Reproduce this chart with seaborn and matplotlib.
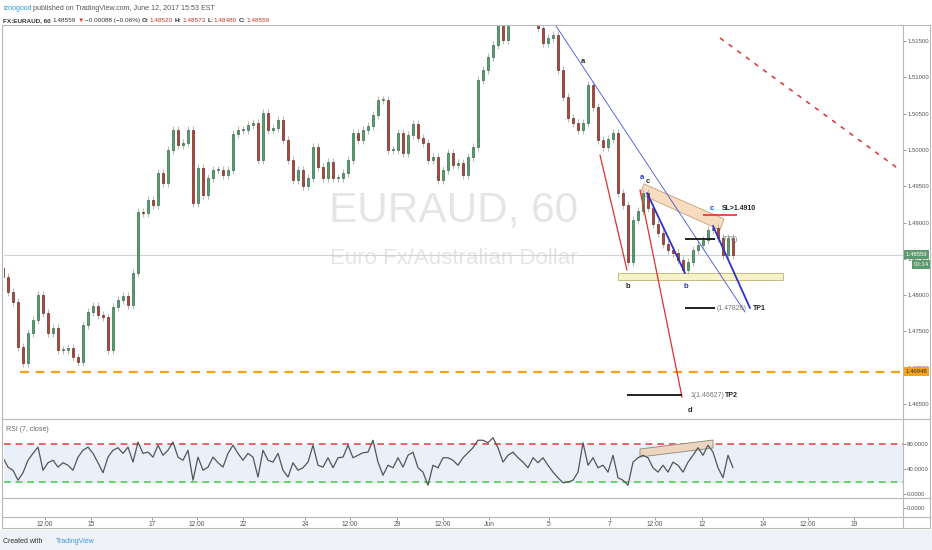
import numpy as np
import pandas as pd
import matplotlib
matplotlib.use('Agg')
import matplotlib.pyplot as plt
import matplotlib.transforms as mtransforms
from matplotlib import font_manager
from matplotlib.patches import Polygon, Rectangle
from matplotlib.lines import Line2D
import seaborn as sns

# EURAUD 60 min closes
closes = [
    1.48250, 1.48044, 1.47906, 1.47286, 1.47066, 1.47479, 1.47658, 1.48002, 1.47755, 1.47479,
    1.47548, 1.47245, 1.47245, 1.47273, 1.47149, 1.47080, 1.47589, 1.47768, 1.47851, 1.47727,
    1.47699, 1.47245, 1.47837, 1.47934, 1.47989, 1.47865, 1.48305, 1.49145, 1.49132, 1.49311,
    1.49242, 1.49682, 1.49545, 1.49999, 1.50274, 1.50068, 1.50095, 1.50274, 1.49269, 1.49751,
    1.49379, 1.49614, 1.49724, 1.49724, 1.49655, 1.49724, 1.50219, 1.50274, 1.50274, 1.50343,
    1.50371, 1.49861, 1.50509, 1.50274, 1.50302, 1.50412, 1.50137, 1.49861, 1.49586, 1.49724,
    1.49503, 1.49614, 1.50040, 1.49765, 1.49614, 1.49834, 1.49614, 1.49614, 1.49682, 1.49861,
    1.50233, 1.50137, 1.50274, 1.50330, 1.50481, 1.50688, 1.50688, 1.49999, 1.49999, 1.50233,
    1.49958, 1.50206, 1.50357, 1.50164, 1.50095, 1.49861, 1.49903, 1.49586, 1.49724, 1.49958,
    1.49793, 1.49820, 1.49655, 1.49903, 1.50040, 1.50963, 1.51101, 1.51280, 1.51445, 1.51734,
    1.51514, 1.51858, 1.51899, 1.51858, 1.51899, 1.51872, 1.51789, 1.51679, 1.51472, 1.51541,
    1.51583, 1.51101, 1.50729, 1.50440, 1.50371, 1.50274, 1.50371, 1.50894, 1.50591, 1.50137,
    1.50040, 1.50151, 1.50233, 1.49407, 1.49242, 1.48457, 1.49035, 1.49159, 1.49407, 1.49200,
    1.48980, 1.48856, 1.48705, 1.48622, 1.48581, 1.48484, 1.48347, 1.48457, 1.48622, 1.48691,
    1.48760, 1.48897, 1.48925, 1.48787, 1.48553, 1.48787, 1.48559,
]
first_open = 1.4837

rsi = [
    58, 43, 38, 22, 34, 54, 65, 75, 38, 50,
    54, 43, 50, 46, 38, 59, 70, 75, 65, 50,
    34, 59, 70, 74, 65, 75, 51, 83, 65, 67,
    59, 78, 62, 70, 83, 59, 54, 70, 22, 59,
    38, 43, 59, 50, 43, 65, 78, 65, 54, 65,
    59, 27, 70, 54, 51, 65, 38, 27, 50, 38,
    42, 51, 78, 46, 43, 58, 42, 58, 59, 78,
    58, 62, 66, 67, 86, 51, 30, 46, 42, 58,
    43, 62, 67, 42, 35, 14, 46, 42, 58, 58,
    54, 46, 58, 66, 74, 86, 86, 82, 90, 74,
    51, 62, 67, 58, 51, 42, 58, 50, 58, 46,
    35, 26, 18, 19, 22, 35, 82, 46, 58, 42,
    46, 35, 62, 26, 22, 14, 51, 58, 62, 58,
    42, 35, 46, 35, 51, 46, 35, 51, 62, 74,
    62, 78, 67, 42, 26, 62, 42,
]

date_ticks = [8.4, 17.6, 29.8, 38.8, 48.0, 60.4, 69.4, 78.8, 88.0, 97.2,
              109.2, 121.4, 130.4, 139.8, 152.0, 161.0, 170.2]
date_labels = ['12:00', '15', '17', '12:00', '22', '24', '12:00', '29', '12:00', 'Jun',
               '5', '7', '12:00', '12', '14', '12:00', '19']
price_ticks = [1.465, 1.470, 1.475, 1.480, 1.485, 1.490, 1.495, 1.500, 1.505, 1.510, 1.515]
rsi_ticks = [0, 40, 80]

# drawings (bar index, price)
blue_thin_lines = [(110.6, 1.51707, 148.4, 1.47768)]
blue_thick_lines = [(128.8, 1.49407, 136.4, 1.48305), (142.0, 1.48953, 149.4, 1.47823)]
red_lines = [(119.4, 1.49930, 124.8, 1.48347), (127.4, 1.49448, 135.8, 1.46598)]
red_dash_line = (143.4, 1.51541, 179.4, 1.49724)
support_level = 1.46948
black_levels = [(136.4, 142.4, 1.48778), (136.4, 142.4, 1.47826), (124.8, 135.8, 1.46627)]
sl_level = (140.0, 146.8, 1.4910)
support_zone = (123.0, 156.0, 1.48209, 1.48305)
peach_band = [(128.2, 1.49531), (144.2, 1.49049), (143.4, 1.48898), (127.4, 1.49393)]
rsi_band = [(127.4, 72), (142.0, 86.4), (142.0, 73.6), (127.4, 59.2)]
wave_labels = [('a', 116.0, 1.51211, '#222222'), ('a', 127.8, 1.49627, '#2c33c9'),
               ('c', 129.0, 1.49572, '#222222'), ('b', 125.0, 1.48126, '#222222'),
               ('b', 136.6, 1.48126, '#2c33c9'), ('c', 141.8, 1.49200, '#2c33c9'),
               ('d', 137.4, 1.46419, '#222222')]
notes = [('SL>1.4910', 143.8, 1.49187, '#222222', 'bold'),
         ('(778)', 143.8, 1.48760, '#777777', 'normal'),
         ('(1.47826)', 142.8, 1.47810, '#777777', 'normal'),
         ('TP1', 150.0, 1.47810, '#222222', 'bold'),
         ('1(1.46627)', 137.4, 1.46625, '#777777', 'normal'),
         ('TP2', 144.4, 1.46625, '#222222', 'bold')]

sns.set_theme(style='white')
plt.rcParams['font.family'] = ['Liberation Sans', 'DejaVu Sans']

W, H = 932, 550
fig = plt.figure(figsize=(W / 100, H / 100), dpi=100)
fig.patch.set_facecolor('white')


def fx(px):
    return px / W


def fy(py):
    return 1 - py / H


L, R = 4, 903
TICK = 4.3
ax = fig.add_axes([fx(L), fy(418), fx(R) - fx(L), (418 - 25) / H])
ax_rsi = fig.add_axes([fx(L), fy(498), fx(R) - fx(L), (498 - 419) / H], sharex=ax)
ax_bot = fig.add_axes([fx(L), fy(517), fx(R) - fx(L), (517 - 498) / H], sharex=ax)
for a in (ax, ax_rsi, ax_bot):
    a.set_facecolor('none')
    for s in a.spines.values():
        s.set_visible(False)

# candles
df = pd.DataFrame({'close': closes})
df['open'] = [first_open] + closes[:-1]
df['rsi'] = rsi
up = (df['close'] >= df['open']).values
lo = df[['open', 'close']].min(axis=1)
hi = df[['open', 'close']].max(axis=1)
wick = 0.0006
ax.vlines(df.index, lo - wick, hi + wick, color='#b5b5b5', lw=0.7, zorder=3)
ax.bar(df.index, (hi - lo).clip(lower=0.00008), bottom=lo, width=0.55,
       color=np.where(up, '#53a36f', '#b4453a'),
       edgecolor=np.where(up, '#2e5e3f', '#5e2019'), linewidth=0.45, zorder=4)

ax.set_xlim(0.2, 180)
ax.set_ylim(1.46309, 1.51720)

# watermark
ax.text(0.5, 0.529, 'EURAUD, 60', transform=ax.transAxes, ha='center', va='center',
        fontsize=30.5, color='#e3e5e8', zorder=0)
ax.text(0.5, 0.407, 'Euro Fx/Australian Dollar', transform=ax.transAxes, ha='center',
        va='center', fontsize=16, color='#e3e5e8', zorder=0)

# current price line and support
ax.axhline(closes[-1], color='#cfd3d6', lw=0.8, zorder=1)
ax.hlines(support_level, 3.4, 180, color='#f7a21b', lw=1.6, linestyles=(0, (4, 3)), zorder=5)

# drawings
x0, x1, y0, y1 = support_zone
ax.add_patch(Rectangle((x0, y0), x1 - x0, y1 - y0, fc='#f7f2c8', ec='#c8be7a', lw=0.7, zorder=2))
ax.add_patch(Polygon(peach_band, closed=True, fc='#f8dcc0', ec='#c9a98a', lw=0.7, zorder=2))
for xa, pa, xb, pb in blue_thin_lines:
    ax.plot([xa, xb], [pa, pb], color='#4650d8', lw=0.6, zorder=6)
for xa, pa, xb, pb in blue_thick_lines:
    ax.plot([xa, xb], [pa, pb], color='#2c33c9', lw=1.3, zorder=6)
for xa, pa, xb, pb in red_lines:
    ax.plot([xa, xb], [pa, pb], color='#e03030', lw=0.9, zorder=6)
xa, pa, xb, pb = red_dash_line
ax.plot([xa, xb], [pa, pb], color='#e03030', lw=1.1, ls=(0, (3, 4)), zorder=6)
for xa, xb, p in black_levels:
    ax.hlines(p, xa, xb, color='#111111', lw=1.3, zorder=6)
xa, xb, p = sl_level
ax.hlines(p, xa, xb, color='#e03030', lw=1.2, zorder=6)
for s, xv, pv, c in wave_labels:
    ax.text(xv, pv, s, color=c, fontsize=5.5, ha='center', va='center', fontweight='bold', zorder=7)
for s, xv, pv, c, w in notes:
    ax.text(xv, pv, s, color=c, fontsize=5.0, ha='left', va='center', fontweight=w, zorder=7)

# price axis
ax.yaxis.tick_right()
ax.set_yticks(price_ticks)
ax.set_yticklabels([f'{t:.5f}' for t in price_ticks])
ax.tick_params(axis='y', length=2, width=0.6, color='#888888', labelsize=TICK,
               labelcolor='#555555', pad=1, direction='out')
ax.tick_params(axis='x', bottom=False, labelbottom=False)
blend = mtransforms.blended_transform_factory(ax.transAxes, ax.transData)
box = dict(boxstyle='square,pad=0.3', ec='none')
ax.text(1.003, closes[-1], f'{closes[-1]:.5f}', transform=blend, fontsize=TICK, color='white',
        va='center', ha='left', bbox=dict(box, fc='#5b9a6e'), clip_on=False, zorder=10)
ax.annotate('00:14', xy=(1.0, closes[-1]), xycoords=blend, xytext=(7.5, -7),
            textcoords='offset points', fontsize=TICK, color='white', va='center', ha='left',
            bbox=dict(box, fc='#5b9a6e'), annotation_clip=False, zorder=10)
ax.text(1.003, support_level, f'{support_level:.5f}', transform=blend, fontsize=TICK,
        color='#333333', va='center', ha='left', bbox=dict(box, fc='#f7a21b'),
        clip_on=False, zorder=10)

# RSI pane
ax_rsi.axhspan(20, 80, color='#e9f0fa', zorder=0)
ax_rsi.axhline(80, color='#e54b4b', lw=1.2, ls=(0, (4, 3)), zorder=1)
ax_rsi.axhline(20, color='#55cc55', lw=1.2, ls=(0, (4, 3)), zorder=1)
ax_rsi.add_patch(Polygon(rsi_band, closed=True, fc='#ecd6c0', ec='#8f8578', lw=0.6, zorder=2))
sns.lineplot(x=df.index, y=df['rsi'], ax=ax_rsi, color='#555555', lw=0.9, zorder=3)
ax_rsi.set_ylim(-6.4, 120)
ax_rsi.set_xlabel('')
ax_rsi.set_ylabel('')
ax_rsi.yaxis.tick_right()
ax_rsi.set_yticks(rsi_ticks)
ax_rsi.set_yticklabels([f'{t:.4f}' for t in rsi_ticks])
ax_rsi.tick_params(axis='y', length=2, width=0.6, color='#888888', labelsize=TICK,
                   labelcolor='#555555', pad=1)
ax_rsi.tick_params(axis='x', bottom=False, labelbottom=False)
ax_rsi.text(0.002, 0.87, 'RSI (7, close)', transform=ax_rsi.transAxes, fontsize=5,
            color='#666666', va='center', ha='left')

# empty bottom pane carries the date axis
ax_bot.set_ylim(-1, 1)
ax_bot.yaxis.tick_right()
ax_bot.set_yticks([0])
ax_bot.set_yticklabels(['0.0000'])
ax_bot.tick_params(axis='y', length=2, width=0.6, color='#888888', labelsize=TICK,
                   labelcolor='#555555', pad=1)
ax_bot.set_xticks(date_ticks)
ax_bot.set_xticklabels(date_labels)
ax_bot.tick_params(axis='x', bottom=True, length=2, width=0.6, color='#888888',
                   labelsize=4.8, labelcolor='#555555', pad=0.8)

# frame
fig.add_artist(Rectangle((0, 0), 1, fy(530), transform=fig.transFigure, fc='#eef1f6', ec='none', zorder=-5))
fig.add_artist(Rectangle((fx(2), fy(528)), fx(930) - fx(2), (528 - 25) / H, transform=fig.transFigure,
                         fill=False, ec='#b8b8b8', lw=0.8))
fig.add_artist(Line2D([fx(R), fx(R)], [fy(25), fy(528)], transform=fig.transFigure, color='#b8b8b8', lw=0.8))
for yy in (418.5, 498, 517):
    fig.add_artist(Line2D([fx(2), fx(930)], [fy(yy), fy(yy)], transform=fig.transFigure,
                          color='#b8b8b8', lw=0.8))


def chain(parts, x, y, size):
    t = None
    for s, c, w, gap in parts:
        if t is None:
            t = fig.text(x, y, s, color=c, fontweight=w, fontsize=size, va='bottom', ha='left')
        else:
            t = ax.annotate(s, xy=(1, 0), xycoords=t, xytext=(gap, 0), textcoords='offset points',
                            color=c, fontweight=w, fontsize=size, va='bottom', ha='left',
                            annotation_clip=False)
    return t


chain([('iznogood', '#2f9bd9', 'normal', 0),
       ('published on TradingView.com, June 12, 2017 15:53 EST', '#555555', 'normal', 1.2)],
      fx(3), fy(12), 5.1)
chain([('FX:EURAUD, 60', '#333333', 'bold', 0),
       ('1.48559', '#333333', 'normal', 1.5),
       ('\u25bc', '#d43a35', 'normal', 1),
       ('\u22120.00088 (\u22120.06%)', '#333333', 'normal', 1),
       ('O:', '#333333', 'bold', 1.5), ('1.48520', '#c0392b', 'normal', 0.3),
       ('H:', '#333333', 'bold', 1.5), ('1.48573', '#c0392b', 'normal', 0.3),
       ('L:', '#333333', 'bold', 1.5), ('1.48480', '#c0392b', 'normal', 0.3),
       ('C:', '#333333', 'bold', 1.5), ('1.48559', '#c0392b', 'normal', 0.3)],
      fx(3), fy(23), 4.6)
chain([('Created with', '#333333', 'normal', 0),
       ('TradingView', '#3d9bd8', 'normal', 10)], fx(3), fy(545), 5)

fig.savefig('out.png', dpi=100)
